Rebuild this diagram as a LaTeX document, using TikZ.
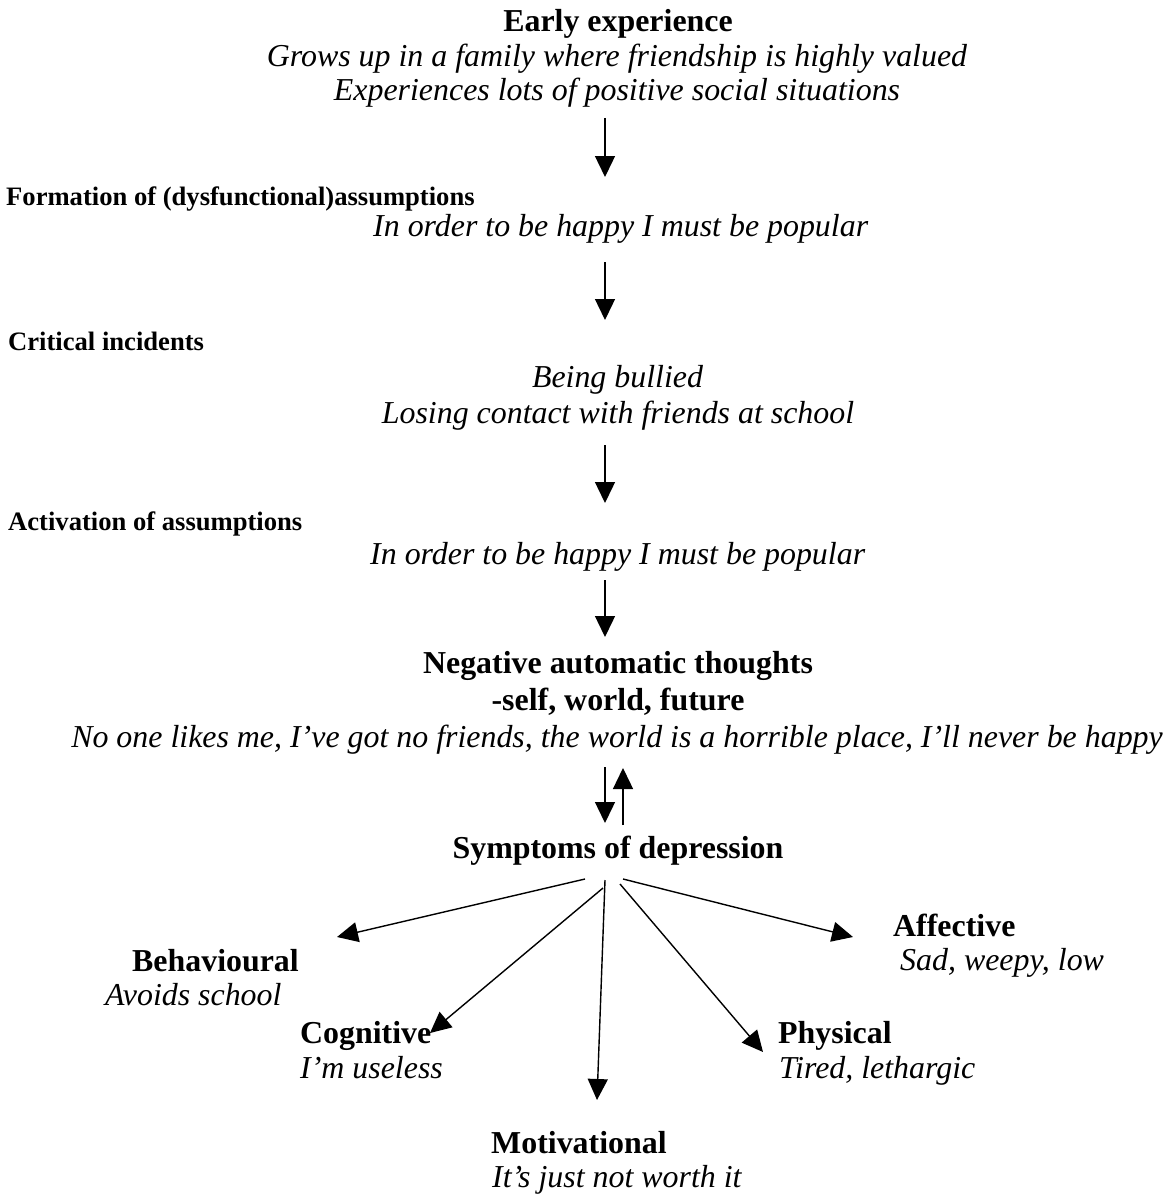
\documentclass[tikz,border=0pt]{standalone}
\usepackage{fontspec}
\setmainfont{Liberation Serif}
\usetikzlibrary{arrows.meta}
\begin{document}
\begin{tikzpicture}[x=1pt,y=-1pt,
  big/.style={font=\fontsize{31.9}{36}\selectfont\bfseries, inner sep=0pt},
  it/.style={font=\fontsize{31.9}{36}\selectfont\itshape, inner sep=0pt},
  lab/.style={font=\fontsize{26.6}{30}\selectfont\bfseries, inner sep=0pt, anchor=base west},
  arr/.style={line width=1.4pt, -{Triangle[length=21pt,width=20pt]}}]
\useasboundingbox (0,0) rectangle (1172,1196);
\fill[white] (0,0) rectangle (1172,1196);

% texts
\node[big, anchor=base] (early) at (618,32) {Early experience};
\node[it, anchor=base] (grows) at (617,67) {Grows up in a family where friendship is highly valued};
\node[it, anchor=base] (exper) at (617,101) {Experiences lots of positive social situations};
\node[lab] (form) at (6,205) {Formation of (dysfunctional)assumptions};
\node[it, anchor=base west] (pop1) at (373,236) {In order to be happy I must be popular};
\node[lab] (crit) at (8,350) {Critical incidents};
\node[it, anchor=base] (bull) at (617.5,387) {Being bullied};
\node[it, anchor=base] (lose) at (618,423) {Losing contact with friends at school};
\node[lab] (act) at (8,530) {Activation of assumptions};
\node[it, anchor=base west] (pop2) at (370,564) {In order to be happy I must be popular};
\node[big, anchor=base] (nat) at (618,673) {Negative automatic thoughts};
\node[big, anchor=base] (sw) at (618,710) {-self, world, future};
\node[it, anchor=base] (noone) at (617,747) {No one likes me, I’ve got no friends, the world is a horrible place, I’ll never be happy};
\node[big, anchor=base] (symp) at (618,858) {Symptoms of depression};
\node[big, anchor=base west] (beh) at (132,971) {Behavioural};
\node[it, anchor=base west] (behx) at (105,1005) {Avoids school};
\node[big, anchor=base west] (cog) at (300,1043) {Cognitive};
\node[it, anchor=base west] (cogx) at (300,1078) {I’m useless};
\node[big, anchor=base west] (mot) at (491,1153) {Motivational};
\node[it, anchor=base west] (motx) at (492,1187) {It’s just not worth it};
\node[big, anchor=base west] (phy) at (778,1043) {Physical};
\node[it, anchor=base west] (phyx) at (779,1078) {Tired, lethargic};
\node[big, anchor=base west] (aff) at (893,936) {Affective};
\node[it, anchor=base west] (affx) at (900,970) {Sad, weepy, low};

% arrow end points
\coordinate (a1s) at (605,118); \coordinate (a1e) at (605,177);
\coordinate (a2s) at (605,262); \coordinate (a2e) at (605,320);
\coordinate (a3s) at (605,445); \coordinate (a3e) at (605,503);
\coordinate (a4s) at (605,580); \coordinate (a4e) at (605,637);
\coordinate (dns) at (605,767); \coordinate (dne) at (605,823);
\coordinate (ups) at (623,825); \coordinate (upe) at (623,768);
\coordinate (fbs) at (585,879); \coordinate (fbe) at (337,937);
\coordinate (fcs) at (603,888); \coordinate (fce) at (430,1033);
\coordinate (fms) at (605,880); \coordinate (fme) at (597,1100);
\coordinate (fps) at (620,884); \coordinate (fpe) at (763,1052);
\coordinate (fas) at (623,879); \coordinate (fae) at (853,937);

\draw[arr] (a1s) -- (a1e);
\draw[arr] (a2s) -- (a2e);
\draw[arr] (a3s) -- (a3e);
\draw[arr] (a4s) -- (a4e);
\draw[arr] (dns) -- (dne);
\draw[arr] (ups) -- (upe);
\draw[arr] (fbs) -- (fbe);
\draw[arr] (fcs) -- (fce);
\draw[arr] (fms) -- (fme);
\draw[arr] (fps) -- (fpe);
\draw[arr] (fas) -- (fae);
\end{tikzpicture}
\end{document}
